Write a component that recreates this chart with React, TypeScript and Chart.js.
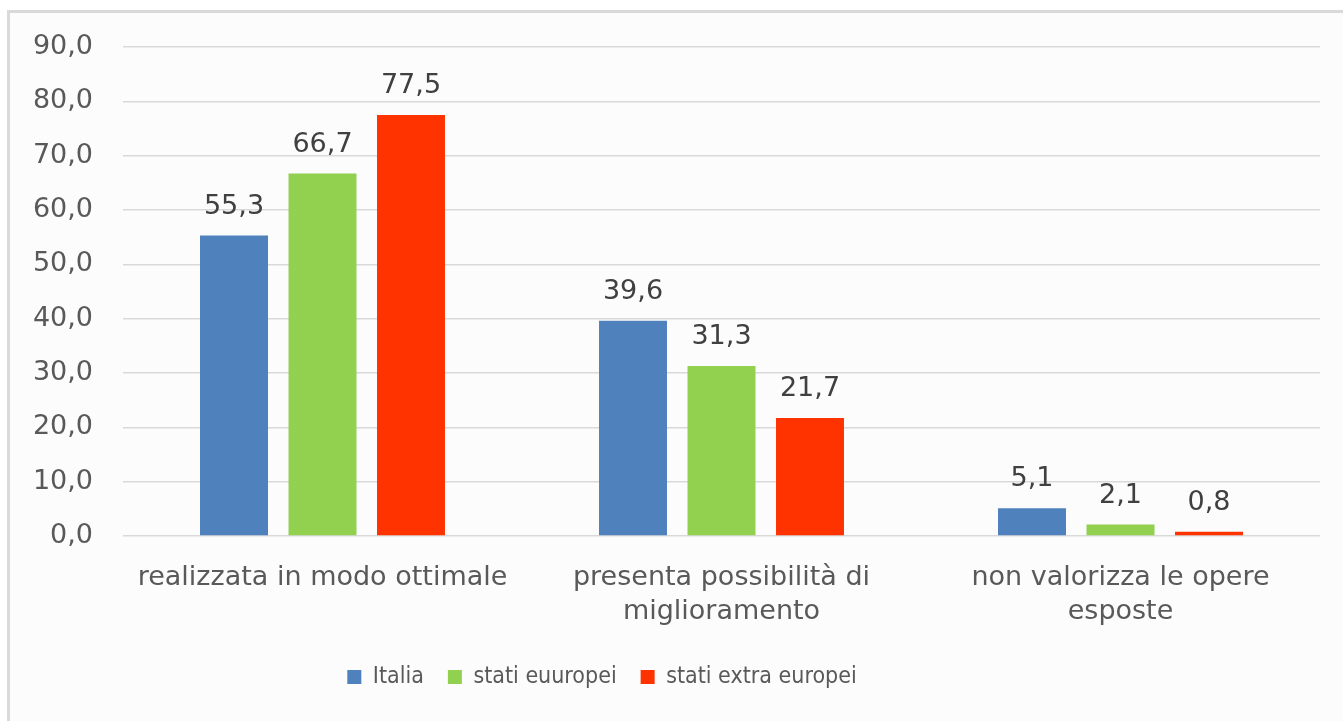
import { useEffect, useRef } from "react";
import { Chart, registerables } from "chart.js";

Chart.register(...registerables);

const categories: (string | string[])[] = [
  "realizzata in modo ottimale",
  ["presenta possibilità di", "miglioramento"],
  ["non valorizza le opere", "esposte"],
];
const seriesNames = ["Italia", "stati euuropei", "stati extra europei"];
const italia = [55.3, 39.6, 5.1];
const statiEuropei = [66.7, 31.3, 2.1];
const statiExtraEuropei = [77.5, 21.7, 0.8];
const yMin = 0;
const yMax = 90;
const yStep = 10;

const COLORS = ["#4F81BD", "#92D050", "#FF3300"];
const AXIS_FONT = "'DejaVu Sans', sans-serif";
const LEGEND_FONT = "'DejaVu Sans Condensed', 'Open Sans', sans-serif";
const LEGEND_SHIFT = -58;
const fmt = (v: number) => v.toFixed(1).replace(".", ",");

const valueLabels = {
  id: "valueLabels",
  afterDatasetsDraw(chart: any) {
    const ctx = chart.ctx;
    ctx.save();
    ctx.font = `27px ${AXIS_FONT}`;
    ctx.fillStyle = "#404040";
    ctx.textAlign = "center";
    ctx.textBaseline = "alphabetic";
    chart.data.datasets.forEach((ds: any, i: number) => {
      const meta = chart.getDatasetMeta(i);
      meta.data.forEach((bar: any, j: number) => {
        ctx.fillText(fmt(ds.data[j]), bar.x, bar.y - 22);
      });
    });
    ctx.restore();
  },
};

const legendShift = {
  id: "legendShift",
  afterLayout(chart: any) {
    if (chart.legend) {
      chart.legend.left += LEGEND_SHIFT;
      chart.legend.right += LEGEND_SHIFT;
    }
  },
};

export default function App() {
  const ref = useRef<HTMLCanvasElement>(null);
  useEffect(() => {
    if (!ref.current) return;
    const values = [italia, statiEuropei, statiExtraEuropei];
    const chart = new Chart(ref.current, {
      type: "bar",
      data: {
        labels: categories,
        datasets: seriesNames.map((name, i) => ({
          label: name,
          data: values[i],
          backgroundColor: COLORS[i],
          borderWidth: 0,
          categoryPercentage: 0.6654,
          barPercentage: 0.768,
        })),
      },
      options: {
        animation: false,
        responsive: false,
        devicePixelRatio: 1,
        layout: { padding: { top: 47, right: 23, bottom: 22.5, left: 0 } },
        plugins: {
          tooltip: { enabled: false },
          legend: {
            position: "bottom",
            labels: {
              boxWidth: 14,
              boxHeight: 14,
              padding: 24,
              color: "#595959",
              font: { family: LEGEND_FONT, size: 23 },
            },
          },
        },
        scales: {
          x: {
            grid: { display: false, drawTicks: false },
            border: { display: false },
            ticks: {
              color: "#595959",
              padding: 25,
              maxRotation: 0,
              autoSkip: false,
              font: { family: AXIS_FONT, size: 27, lineHeight: 34 / 27 },
            },
            afterFit: (scale: any) => {
              scale.height = 105.5;
            },
          },
          y: {
            min: yMin,
            max: yMax,
            grid: { color: "#d9d9d9", lineWidth: 1.5, drawTicks: false },
            border: { display: false },
            ticks: {
              stepSize: yStep,
              color: "#595959",
              padding: 30,
              font: { family: AXIS_FONT, size: 27 },
              callback: (v: any) => fmt(Number(v)),
            },
            afterFit: (scale: any) => {
              scale.width = 123;
            },
          },
        },
      },
      plugins: [valueLabels, legendShift],
    });
    return () => chart.destroy();
  }, []);

  return (
    <>
      <div
        style={{
          position: "fixed",
          left: 7,
          top: 10,
          width: 1400,
          height: 800,
          border: "3px solid #d9d9d9",
          background: "#fcfcfc",
          zIndex: 0,
        }}
      />
      <canvas
        ref={ref}
        width={1343}
        height={721}
        style={{ position: "fixed", left: 0, top: 0, width: 1343, height: 721, zIndex: 1 }}
      />
    </>
  );
}
